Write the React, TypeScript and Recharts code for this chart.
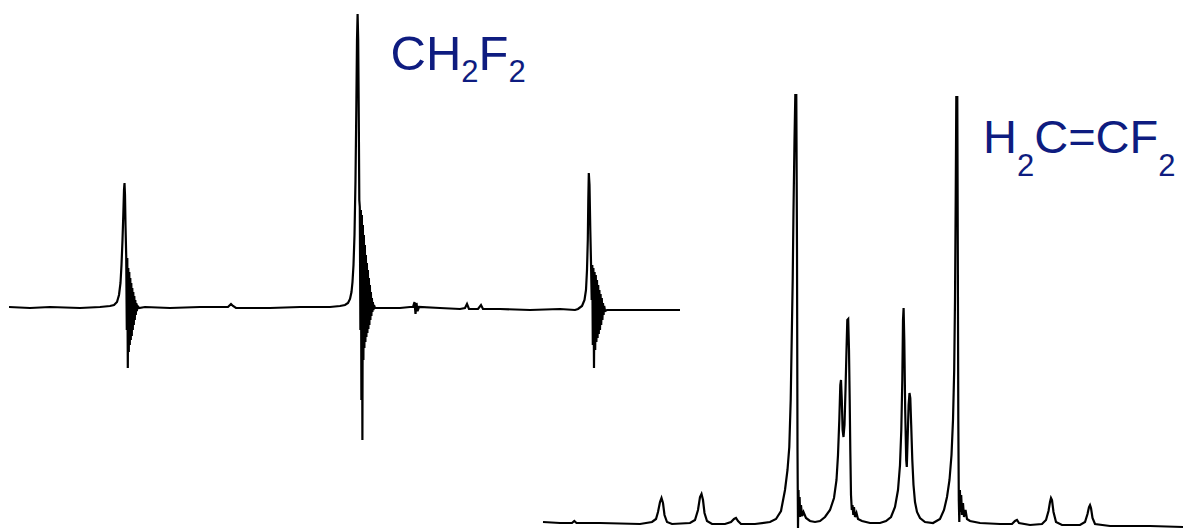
import React from 'react';
import { LineChart, Line, XAxis, YAxis } from 'recharts';

type Pt = [number, number];

// CH2F2 trace: [channel, intensity]
const ch2f2Low: Pt[] = [
  [9, 1], [30, 0], [50, 1], [80, 0], [100, 1], [110, 2],
  [114, 3], [117, 6], [119, 13], [120.5, 25], [121.5, 43], [122.5, 68], [123.3, 93], [124, 118],
  [124.5, 125], [125, 113], [125.5, 83], [126.2, 53], [126.8, -22], [127.3, 50], [127.8, -60],
  [128.3, 40], [128.8, -44], [129.3, 36], [129.8, -37], [130.3, 30], [130.8, -32], [131.3, 25],
  [131.8, -28], [132.3, 20], [132.8, -22], [133.3, 16], [133.8, -17], [134.3, 12], [134.8, -12],
  [135.3, 8], [135.8, -7], [136.3, 5], [136.8, -3], [137.5, 2], [139, 0],
  [145, 1], [170, 0], [200, 1], [228, 1], [231, 4], [233, 2], [236, 0], [270, 0], [300, 1], [330, 1],
];

const ch2f2Mid: Pt[] = [
  [340, 2], [345, 3], [348, 5], [350, 9], [351.5, 16], [352.5, 26], [353.5, 43], [354.5, 73],
  [355.5, 128], [356.3, 198], [357, 268], [357.6, 294], [358.2, 268], [358.8, 188], [359.3, 108],
  [359.8, 101], [360.4, -22], [360.9, 98], [361.4, -92], [361.9, 93], [362.4, -132], [362.9, 83],
  [363.4, -52], [363.9, 73], [364.4, -40], [364.9, 63], [365.4, -34], [365.9, 53], [366.4, -29],
  [366.9, 45], [367.4, -25], [367.9, 38], [368.4, -21], [368.9, 30], [369.4, -17], [369.9, 23],
  [370.4, -12], [370.9, 16], [371.4, -8], [371.9, 10], [372.4, -4], [372.9, 6], [373.4, -2],
  [374, 3], [375, 0],
  [380, 0], [400, 0], [410, 1], [413, 1], [414.5, 6], [415.5, -6], [416.5, 5], [417.5, -3], [419, 1],
  [440, 0], [460, -1], [465, 0], [467, 4], [469, -1], [478, -1], [481, 3], [483, -1], [500, -1],
  [530, -2], [560, -1], [575, -2],
];

const ch2f2High: Pt[] = [
  [578, -1], [582, 2], [584.5, 8], [586, 18], [587, 38], [587.8, 68], [588.3, 108], [588.8, 135],
  [589.5, 123], [590.3, 78], [591, 46], [591.7, 8], [592.3, 43], [592.8, -37], [593.4, 40],
  [594, -60], [594.6, 36], [595.2, -42], [595.8, 33], [596.4, -34], [597, 28], [597.6, -30],
  [598.2, 23], [598.8, -26], [599.4, 18], [600, -22], [600.6, 14], [601.2, -17], [601.8, 10],
  [602.4, -12], [603, 5], [603.6, -7], [604.2, 2], [605, -3], [607, -2], [630, -2], [660, -2], [680, -2],
];

// H2C=CF2 trace: [channel, intensity]
const vdfOuterLow: Pt[] = [
  [543, 5], [560, 4], [572, 4], [574.3, 6], [576.5, 4], [600, 4], [640, 3], [652, 5], [656, 8],
  [658, 15], [660, 25], [661.5, 29], [663, 24], [664.5, 12], [667, 5], [672, 3], [690, 4], [695, 7],
  [698, 17], [700, 30], [701.5, 33], [703, 27], [704.5, 14], [707, 6], [712, 3], [725, 3], [731, 5],
  [734, 8], [736, 9], [738, 6], [741, 3], [755, 3],
];

const vdfInnerLow: Pt[] = [
  [770, 5], [776, 8], [781, 16], [785, 37], [787.5, 57], [789.3, 80], [790.7, 127], [791.7, 187],
  [792.7, 247], [793.5, 317], [794.5, 387], [795.3, 432], [796.3, 432], [797, 277], [797.5, 77],
  [798, -1], [798.5, 37], [799, 12], [799.6, 30], [800.2, 10], [801, 22], [802, 11], [803.5, 15],
  [806, 9], [810, 6], [815, 5], [820, 6], [825, 10], [830, 17], [834, 29], [836.5, 47], [838, 72],
  [839.3, 107], [840.3, 142], [841, 147], [841.8, 127], [842.6, 97], [843.5, 90], [844.5, 102],
  [845.5, 137], [846.5, 177], [847.3, 207], [848.2, 208], [849, 177], [849.7, 127], [850.3, 77],
  [851, 32], [851.8, 17], [852.5, 22], [853.3, 12], [854, 20], [855, 10], [856.5, 14], [858, 8],
  [862, 6], [870, 4],
];

const vdfInnerHigh: Pt[] = [
  [880, 4], [886, 6], [891, 10], [895, 20], [898, 37], [900, 62], [901.3, 97], [902.3, 147],
  [903, 207], [903.6, 219], [904.3, 187], [905.2, 117], [906.2, 67], [906.8, 60], [907.6, 87],
  [908.6, 122], [909.5, 134], [910.3, 129], [911.2, 102], [912.3, 67], [913.5, 42], [915, 25],
  [917, 15], [920, 9], [925, 5], [933, 4], [940, 8], [944, 17], [947, 30], [949.5, 47], [951.5, 72],
  [953, 107], [954.2, 157], [955, 227], [955.7, 327], [956.3, 430], [957.3, 430], [957.8, 277],
  [958.3, 107], [958.8, 27], [959.3, 5], [959.9, 37], [960.5, 15], [961.2, 32], [962, 12], [963, 24],
  [964, 10], [965.5, 17], [967, 8], [970, 6], [980, 4],
];

const vdfOuterHigh: Pt[] = [
  [1000, 3], [1012, 3], [1015, 6], [1017, 7], [1019, 4], [1030, 2], [1042, 3], [1046, 7],
  [1048.5, 16], [1050, 25], [1051, 29], [1052, 27], [1053.5, 15], [1056, 5], [1062, 2], [1080, 2],
  [1085, 5], [1087.5, 13], [1089, 20], [1090, 22], [1091, 19], [1092.5, 9], [1095, 3], [1110, 1],
  [1150, 1], [1183, 0],
];

const toRows = (pts: Pt[]) => pts.map(([x, y]) => ({ x, y }));

const ch2f2Data = toRows([...ch2f2Low, ...ch2f2Mid, ...ch2f2High]);
const vdfData = toRows([...vdfOuterLow, ...vdfInnerLow, ...vdfInnerHigh, ...vdfOuterHigh]);

const LABEL_COLOR = '#0e1c80';
const FONT = '"Liberation Sans", Arial, sans-serif';

const App: React.FC = () => {
  return (
    <div style={{ position: 'absolute', left: 0, top: 0, width: 1183, height: 531, background: '#fff' }}>
      <div style={{ position: 'absolute', left: 0, top: 0 }}>
        <LineChart width={680} height={450} data={ch2f2Data} margin={{ top: 0, right: 0, bottom: 0, left: 0 }}>
          <XAxis dataKey="x" type="number" domain={[0, 680]} hide />
          <YAxis type="number" domain={[-142, 308]} hide allowDataOverflow />
          <Line
            dataKey="y"
            type="linear"
            stroke="#000"
            strokeWidth={2.2}
            dot={false}
            activeDot={false}
            isAnimationActive={false}
          />
        </LineChart>
      </div>
      <div style={{ position: 'absolute', left: 540, top: 0 }}>
        <LineChart width={643} height={531} data={vdfData} margin={{ top: 0, right: 0, bottom: 0, left: 0 }}>
          <XAxis dataKey="x" type="number" domain={[540, 1183]} hide />
          <YAxis type="number" domain={[-4, 527]} hide allowDataOverflow />
          <Line
            dataKey="y"
            type="linear"
            stroke="#000"
            strokeWidth={2.2}
            dot={false}
            activeDot={false}
            isAnimationActive={false}
          />
        </LineChart>
      </div>
      <svg width={1183} height={531} style={{ position: 'absolute', left: 0, top: 0, pointerEvents: 'none' }}>
        <text x={390.5} y={69.5} fontSize={49} fill={LABEL_COLOR} fontFamily={FONT}>
          CH<tspan fontSize={31} dy={12}>2</tspan>
          <tspan dy={-12}>F</tspan>
          <tspan fontSize={31} dy={12}>2</tspan>
        </text>
        <text x={983} y={153} fontSize={47} fill={LABEL_COLOR} fontFamily={FONT}>
          H<tspan fontSize={31} dy={23}>2</tspan>
          <tspan dy={-23}>C=CF</tspan>
          <tspan fontSize={31} dy={23}>2</tspan>
        </text>
      </svg>
    </div>
  );
};

export default App;
